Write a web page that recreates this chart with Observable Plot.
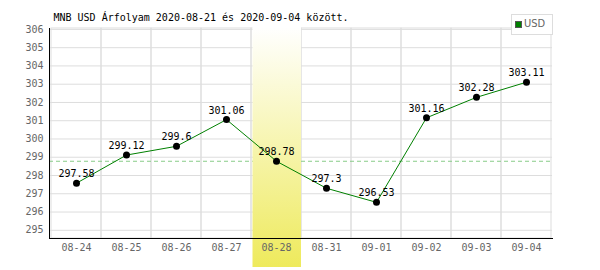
<!DOCTYPE html>
<html><head><meta charset="utf-8">
<script src="https://cdn.jsdelivr.net/npm/d3@7"></script>
<script src="https://cdn.jsdelivr.net/npm/@observablehq/plot@0.6"></script>
<style>
body{margin:0;background:#fff;}
#wrap{position:relative;width:600px;height:270px;}
#legend{position:absolute;left:511px;top:14px;width:42px;height:21px;border:1px solid #ddd;background:#fff;box-sizing:border-box;font:11px "DejaVu Sans Condensed","DejaVu Sans",sans-serif;color:#666;}
#legend .sw{position:absolute;left:3px;top:6px;width:5px;height:5px;background:#008000;border:1px solid #555;}
#legend .lb{position:absolute;left:12px;top:3px;line-height:12px;}
</style></head>
<body><div id="wrap"></div>
<script>
const dates = ["08-24","08-25","08-26","08-27","08-28","08-31","09-01","09-02","09-03","09-04"];
const values = [297.58, 299.12, 299.6, 301.06, 298.78, 297.3, 296.53, 301.16, 302.28, 303.11];
const highlightDate = "08-28";
const referenceValue = 298.78;
const yTicks = [295,296,297,298,299,300,301,302,303,304,305,306];
const yDomain = [294.55, 306.05];
const title = "MNB USD Árfolyam 2020-08-21 és 2020-09-04 között.";
const seriesName = "USD";

const data = dates.map((d, i) => ({date: d, value: values[i]}));

const chart = Plot.plot({
  width: 600, height: 270,
  marginLeft: 49, marginRight: 48, marginTop: 28, marginBottom: 32,
  style: {fontFamily: "'DejaVu Sans Mono', monospace", fontSize: "10px", background: "white", overflow: "visible"},
  x: {type: "band", domain: dates, padding: 0},
  y: {domain: yDomain},
  marks: [
    Plot.gridY(yTicks, {stroke: "#ddd", strokeOpacity: 1}),
    Plot.cell(dates, {x: d => d, fill: "none", stroke: "#ddd"}),
    Plot.ruleY([referenceValue], {stroke: "#88cc88", strokeDasharray: "4,3"}),
    Plot.cell([highlightDate], {x: d => d, fill: "url(#hlgrad)", insetLeft: 1.5, insetTop: -1, insetBottom: -29}),
    Plot.frame({anchor: "left", stroke: "black"}),
    Plot.frame({anchor: "bottom", stroke: "black"}),
    Plot.axisY(yTicks, {tickSize: 0, tickPadding: 6, fill: "#666", label: null}),
    Plot.axisX({tickSize: 0, tickPadding: 5, fill: "#666", label: null}),
    Plot.line(data, {x: "date", y: "value", stroke: "#008000", strokeWidth: 1}),
    Plot.dot(data, {x: "date", y: "value", r: 3.5, fill: "black"}),
    Plot.text(data, {x: "date", y: "value", text: d => String(d.value), dy: -6, lineAnchor: "bottom", fill: "black"}),
    Plot.text([title], {frameAnchor: "top-left", dx: 4, dy: -8, lineAnchor: "bottom", textAnchor: "start", fill: "black"})
  ]
});

const svg = d3.select(chart);
const grad = svg.insert("defs", ":first-child").append("linearGradient")
  .attr("id", "hlgrad").attr("x1", 0).attr("y1", 0).attr("x2", 0).attr("y2", 1);
grad.append("stop").attr("offset", 0).attr("stop-color", "#ffffff");
grad.append("stop").attr("offset", 1).attr("stop-color", "#eeea5c");

const wrap = document.getElementById("wrap");
wrap.appendChild(chart);
const legend = document.createElement("div");
legend.id = "legend";
legend.innerHTML = '<div class="sw"></div><div class="lb"></div>';
legend.querySelector(".lb").textContent = seriesName;
wrap.appendChild(legend);
</script>
</body></html>
